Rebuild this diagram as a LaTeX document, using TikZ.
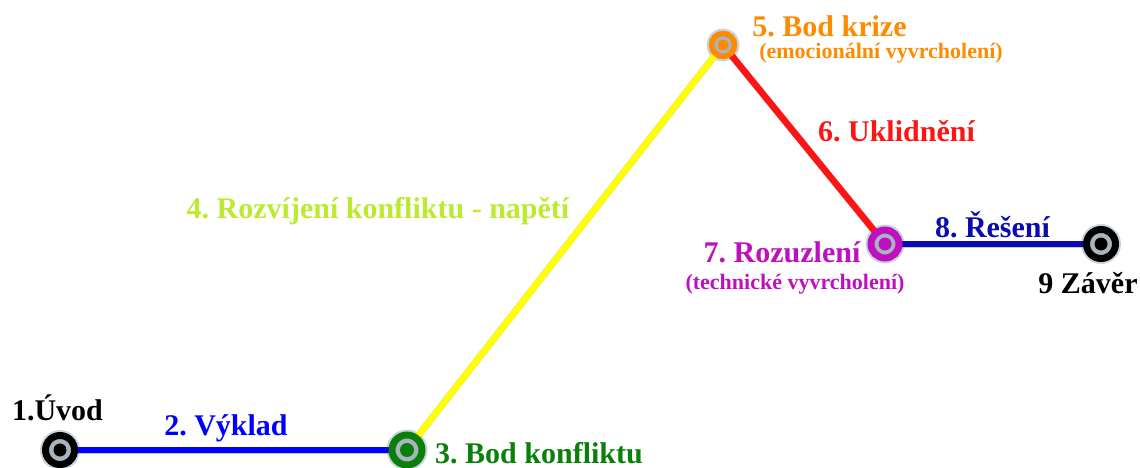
\documentclass[tikz,border=0pt]{standalone}
\usepackage{fontspec}
\setmainfont{Liberation Serif}
\usetikzlibrary{backgrounds}
\frenchspacing
\definecolor{cblue}{RGB}{0,0,255}
\definecolor{cdblue}{RGB}{10,10,176}
\definecolor{cgreen}{RGB}{10,128,10}
\definecolor{cyellow}{RGB}{255,255,0}
\definecolor{cytext}{RGB}{188,234,48}
\definecolor{corange}{RGB}{255,138,0}
\definecolor{cred}{RGB}{255,20,20}
\definecolor{cmag}{RGB}{190,16,190}
\definecolor{cgray}{RGB}{168,180,190}
\definecolor{cshadow}{RGB}{150,170,185}
\tikzset{
  ring/.style={circle, inner sep=0pt, line width=7pt, fill=cgray, draw=#1},
  big/.style={font=\bfseries\fontsize{30}{32}\selectfont, inner sep=0pt, anchor=base},
  small/.style={font=\bfseries\fontsize{22}{24}\selectfont, inner sep=0pt, anchor=base},
  seg/.style={line width=6.5pt, draw=#1},
  shadowseg/.style={line width=7pt, draw=cshadow, opacity=0.6},
}
\begin{document}
\begin{tikzpicture}[x=1pt,y=-1pt]
\useasboundingbox (0,0) rectangle (1140,468);
% stations
\node[ring=black,   minimum size=29pt] (n1) at (60,450) {};
\node[ring=cgreen,  minimum size=30pt] (n3) at (407,450) {};
\node[ring=corange, minimum size=23pt, line width=5.5pt] (n5) at (723,45) {};
\node[ring=cmag,    minimum size=28pt] (n7) at (885,244) {};
\node[ring=black,   minimum size=29pt] (n9) at (1101,244) {};
\foreach \n/\c/\r in {n1/black/6.5, n3/cgreen/7, n5/corange/5.5, n7/cmag/6.5, n9/black/6.5}
  \fill[\c] (\n.center) circle (\r);
% connectors
\begin{pgfonlayer}{background}
  \begin{scope}[shift={(2.5,2.5)}]
    \draw[shadowseg] (n1.center) -- (n3.center);
    \draw[shadowseg] (n3.center) -- (n5.center);
    \draw[shadowseg] (n5.center) -- (n7.center);
    \draw[shadowseg] (n7.center) -- (n9.center);
    \foreach \n/\r in {n1/20, n3/20.5, n5/16.5, n7/19.5, n9/20}
      \fill[cshadow, opacity=0.5] (\n.center) circle (\r);
  \end{scope}
  \draw[seg=cblue]   (n1.center) -- (n3.center);
  \draw[seg=cyellow] (n3.center) -- (n5.center);
  \draw[seg=cred]    (n5.center) -- (n7.center);
  \draw[seg=cdblue]  (n7.center) -- (n9.center);
\end{pgfonlayer}
% labels
\node[big, text=black]   (t1) at (57.5,420) {1.Úvod};
\node[big, text=cblue]   (t2) at (226,435) {2. Výklad};
\node[big, text=cgreen]  (t3) at (539,463) {3. Bod konfliktu};
\node[big, text=cytext]  (t4) at (378,218) {4. Rozvíjení konfliktu - napětí};
\node[big, text=corange] (t5) at (829.5,37) {5. Bod krize};
\node[small, text=corange] (t5b) at (881,59) {(emocionální vyvrcholení)};
\node[big, text=cred]    (t6) at (896.5,142) {6. Uklidnění};
\node[big, text=cmag]    (t7) at (782,262) {7. Rozuzlení};
\node[small, text=cmag]  (t7b) at (795,289) {(technické vyvrcholení)};
\node[big, text=cdblue]  (t8) at (992.5,237) {8. Řešení};
\node[big, text=black]   (t9) at (1088,293) {9 Závěr};
\end{tikzpicture}
\end{document}
